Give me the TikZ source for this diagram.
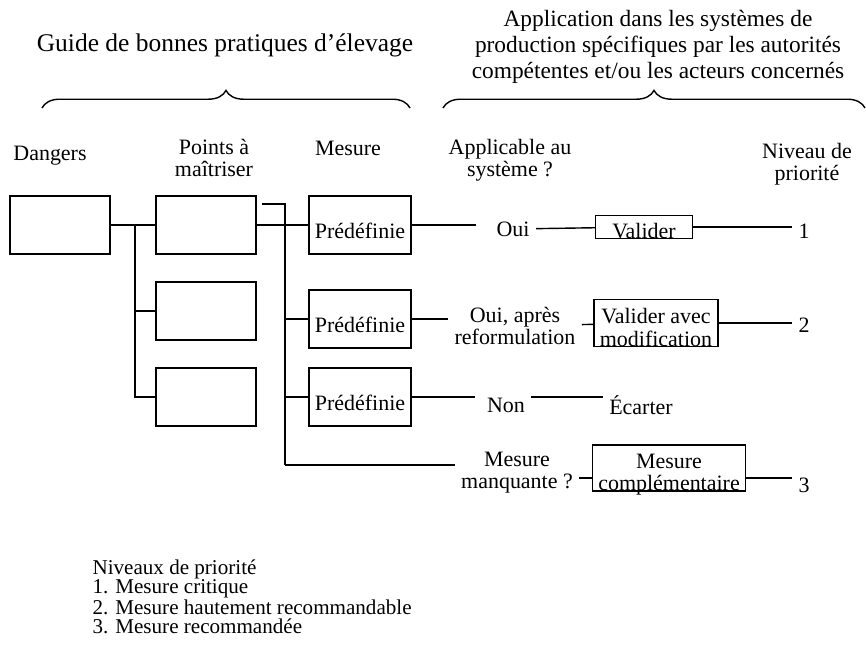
\documentclass[tikz,border=0pt]{standalone}
\usepackage{fontspec}
\setmainfont{Liberation Serif}
\usetikzlibrary{decorations.pathreplacing}

\begin{document}
\begin{tikzpicture}[x=0.02cm,y=-0.02cm,thick,
                    font=\fontsize{12.5}{12.5}\selectfont,
                    box/.style={draw,minimum width=2cm,minimum height=1.16cm},
                    predef/.style={box,text height=15pt,text depth=0pt},
                    lowbox/.style={draw,inner ysep=0pt,text depth=0pt,align=center,
                                   font=\fontsize{12.5}{13}\selectfont},
                    titre/.style={align=center},
                    accolade/.style={decorate,decoration={brace,amplitude=10pt}}]

  \useasboundingbox (0,0) rectangle (866,645);

  % titres et accolades
  \node[titre,font=\fontsize{14.5}{15}\selectfont] (guide) at (225,45) {Guide de bonnes pratiques d’élevage};
  \node[titre,font=\fontsize{13.3}{14.8}\selectfont] (appli) at (658,47) {Application dans les systèmes de\\production spécifiques par les autorités\\compétentes et/ou les acteurs concernés};
  \coordinate (g1) at (42,108);
  \coordinate (g2) at (410,108);
  \coordinate (d1) at (443,108);
  \coordinate (d2) at (865,108);
  \draw[accolade] (g1) -- (g2);
  \draw[accolade] (d1) -- (d2);

  % en-tetes
  \node (hdang) at (50,156) {Dangers};
  \node[align=center] (hpts) at (214,158) {Points à\\maîtriser};
  \node (hmes) at (348,148) {Mesure};
  \node[align=center] (happ) at (510,160) {Applicable au\\système ?};
  \node[align=center] (hniv) at (807,164) {Niveau de\\priorité};

  % boites
  \node[box] (danger) at (60,225) {};
  \node[box] (pt1) at (206,225) {};
  \node[box] (pt2) at (206,311) {};
  \node[box] (pt3) at (206,397) {};
  \node[predef] (mes1) at (360,225) {Prédéfinie};
  \node[predef] (mes2) at (360,319) {Prédéfinie};
  \node[predef] (mes3) at (360,397) {Prédéfinie};

  \node (oui) at (513,229) {Oui};
  \node[lowbox,minimum width=1.94cm,text height=13pt] (valider) at (644,227) {Valider};
  \node (un) at (804,231) {1};
  \node[align=center] (ouiap) at (515,326) {Oui, après\\reformulation};
  \node[lowbox,minimum width=2.42cm,text height=26.7pt] (validmod) at (656,323) {Valider avec\\modification};
  \node (deux) at (804,325) {2};
  \node (non) at (506,405) {Non};
  \node (ecart) at (641,405) {Écarter};
  \node[align=center] (manq) at (517,473) {Mesure\\manquante ?};
  \node[lowbox,minimum width=2.86cm,text height=26pt] (compl) at (669,468) {Mesure\\complémentaire};
  \node (trois) at (804,485) {3};

  \node[anchor=north west,align=left,font=\fontsize{12}{10.8}\selectfont] (legende) at (86,553)
    {Niveaux de priorité\\1. Mesure critique\\2. Mesure hautement recommandable\\3. Mesure recommandée};

  % liaisons
  \coordinate (j1) at (135,225);
  \coordinate (j2) at (285,225);
  \coordinate (crochet) at (262,204);
  \coordinate (j4) at (285,465);
  \draw (danger) -- (pt1);
  \draw (j1) |- (pt2);
  \draw (j1) |- (pt3);
  \draw (pt1) -- (mes1);
  \draw (crochet) -| (j4);
  \draw (j2) |- (mes2);
  \draw (j2) |- (mes3);
  \draw (j4) -- (j4 -| manq.west);

  \draw[shorten >=8pt] (mes1) -- (mes1 -| oui.west);
  \draw (oui) -- (valider);
  \draw (valider) -- (valider -| un.west);
  \draw (mes2) -- (mes2 -| ouiap.west);
  \draw (ouiap) -- (validmod);
  \draw (validmod) -- (validmod -| deux.west);
  \draw[shorten >=3pt] (mes3) -- (mes3 -| non.west);
  \draw (non.east |- mes3.east) -- (ecart.west |- mes3.east);
  \draw ([yshift=-0.1cm]manq.east) -- ([yshift=-0.1cm]manq.east -| compl.west);
  \draw ([yshift=-0.2cm]compl.east) -- ([yshift=-0.2cm]compl.east -| trois.west);

\end{tikzpicture}
\end{document}
